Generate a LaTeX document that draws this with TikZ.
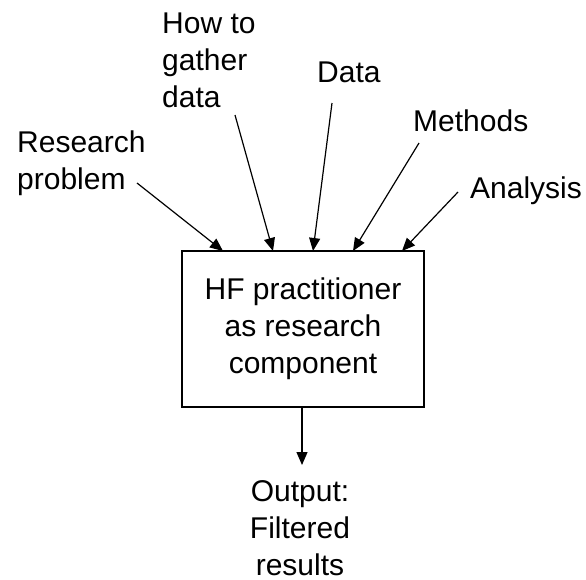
\documentclass[tikz,border=0pt]{standalone}
\usepackage{fontspec}
\setmainfont{Liberation Sans}
\usetikzlibrary{arrows.meta}
\begin{document}
\begin{tikzpicture}[x=1pt,y=-1pt,
  lbl/.style={inner sep=0pt,font=\fontsize{30}{37}\selectfont},
  feed/.style={line width=1.2pt,-{Triangle[length=13pt,width=11pt]}},
  unit/.style={draw,line width=1.2pt,minimum width=242pt,minimum height=156pt,
    inner sep=0pt,align=center,font=\fontsize{30}{37}\selectfont}]
\useasboundingbox[fill=white] (0,0) rectangle (586,579);

% central processing box
\node[unit] (box) at (303,329) {HF practitioner\\as research\\component};

% input labels (multi-line nodes are placed by the baseline of their last line)
\node[lbl,anchor=base west,align=left] (rp) at (17,189) {Research\\problem};
\node[lbl,anchor=base west,align=left] (hg) at (162,107) {How to\\gather\\data};
\node[lbl,anchor=base west] (dt) at (317,82) {Data};
\node[lbl,anchor=base west] (mt) at (413,131) {Methods};
\node[lbl,anchor=base west] (an) at (470,198) {Analysis};

% output label
\node[lbl,anchor=base,align=center] (out) at (300,575) {Output:\\Filtered\\results};

% arrow tails next to the labels
\coordinate (rpT) at (137,183);
\coordinate (hgT) at (235,115);
\coordinate (dtT) at (332,103);
\coordinate (mtT) at (419,143);
\coordinate (anT) at (458,192);

% arrow heads on the top edge of the box
\coordinate (rpH) at (223,251);
\coordinate (hgH) at (273,251);
\coordinate (dtH) at (313,251);
\coordinate (mtH) at (353,251);
\coordinate (anH) at (402,251);
\coordinate (outH) at (302,465);

\draw[feed] (rpT) -- (rpH);
\draw[feed] (hgT) -- (hgH);
\draw[feed] (dtT) -- (dtH);
\draw[feed] (mtT) -- (mtH);
\draw[feed] (anT) -- (anH);
\draw[feed] (box.south -| outH) -- (outH);
\end{tikzpicture}
\end{document}
